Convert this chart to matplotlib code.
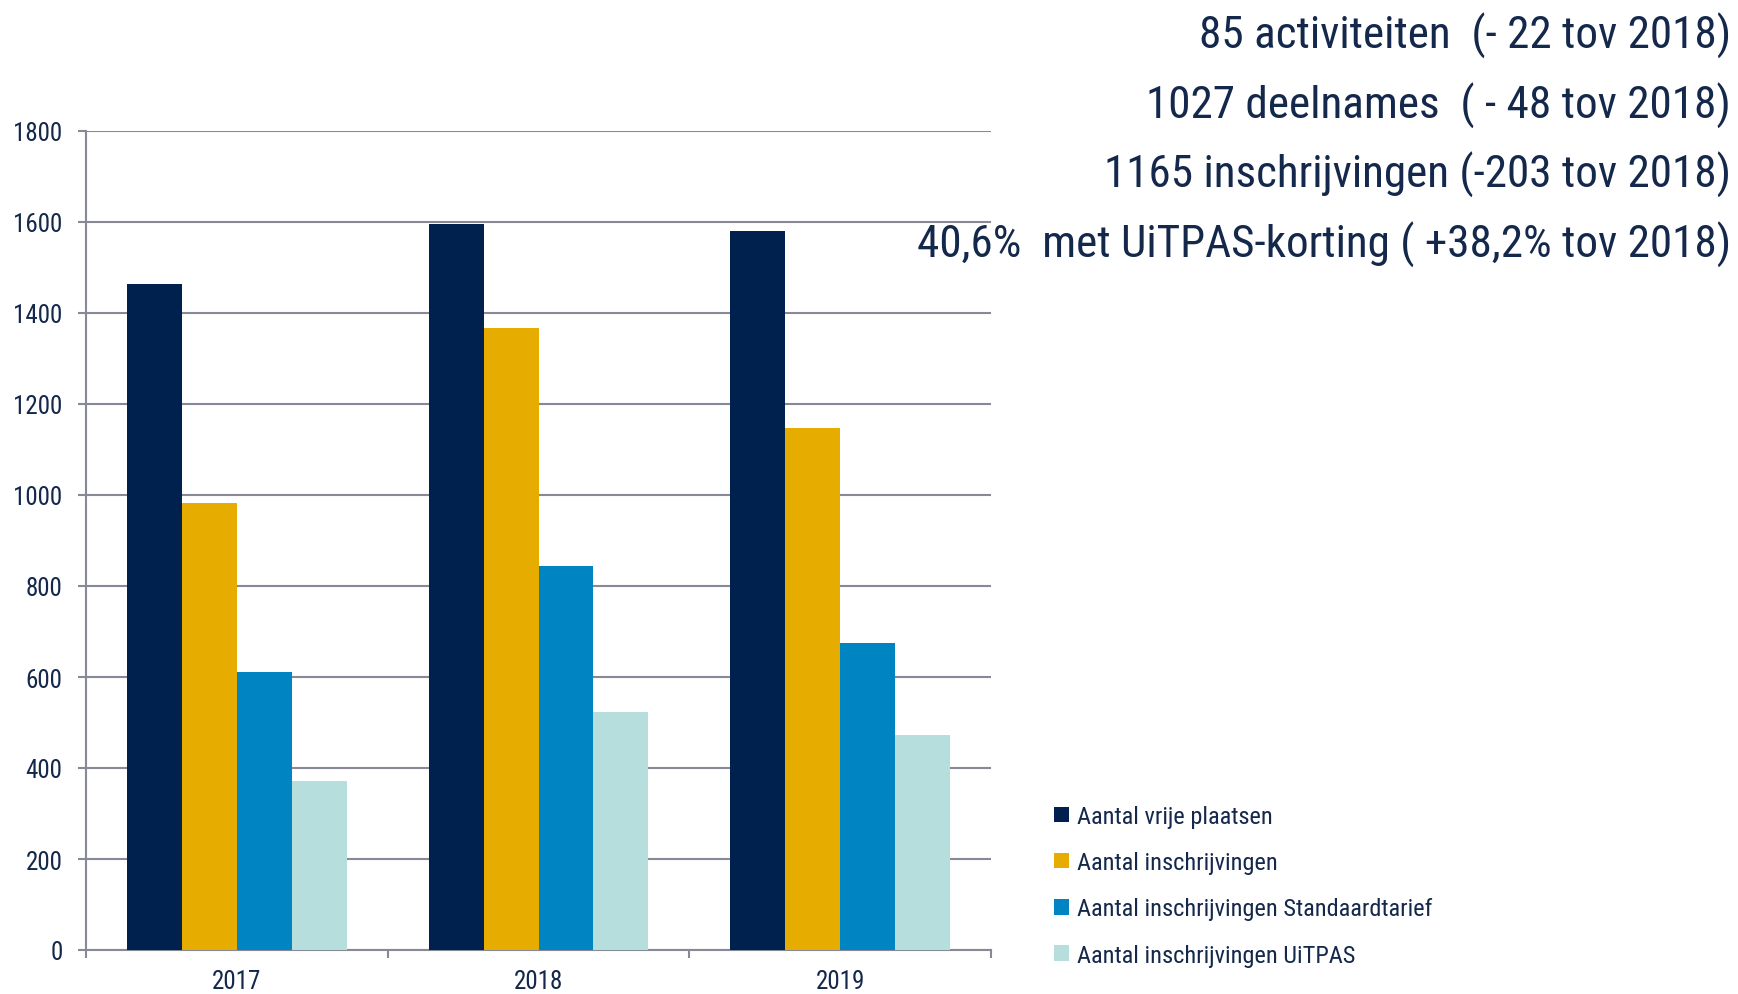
import numpy as np
import matplotlib.pyplot as plt
import matplotlib.font_manager as fm
from matplotlib.patches import Patch

years = ["2017", "2018", "2019"]
series_names = [
    "Aantal vrije plaatsen",
    "Aantal inschrijvingen",
    "Aantal inschrijvingen Standaardtarief",
    "Aantal inschrijvingen UiTPAS",
]
vrije_plaatsen = [1464, 1596, 1581]
inschrijvingen = [982, 1368, 1148]
standaardtarief = [611, 845, 675]
uitpas = [372, 522, 473]

summary_lines = [
    "85 activiteiten  (- 22 tov 2018)",
    "1027 deelnames  ( - 48 tov 2018)",
    "1165 inschrijvingen (-203 tov 2018)",
    "40,6%  met UiTPAS-korting ( +38,2% tov 2018)",
]

colors = ["#00214D", "#E6AC00", "#0085C2", "#B5DEDD"]
text_color = "#14284B"
grid_color = "#878A96"


def pick_narrow_font():
    # the original uses an Arial Narrow look; take a condensed face if one exists
    wanted = ["LiberationSansNarrow-Regular", "ArialNarrow", "RobotoCondensed-Regular",
              "NotoSans-Condensed.", "NotoSans-SemiCondensed.", "OpenSans_Condensed-Regular",
              "OpenSansCondensed"]
    files = [f.fname for f in fm.fontManager.ttflist]
    for w in wanted:
        for fn in files:
            if w.lower() in fn.lower():
                return fm.FontProperties(fname=fn)
    return fm.FontProperties(family=["Liberation Sans", "DejaVu Sans"])


font = pick_narrow_font()

fig = plt.figure(figsize=(17.38, 9.95), dpi=100)
ax = fig.add_axes([86 / 1738, 1 - 951 / 995, (991 - 86) / 1738, (951 - 132) / 995])

values = [vrije_plaatsen, inschrijvingen, standaardtarief, uitpas]
x = np.arange(len(years))
width = 0.182
for i, (vals, c) in enumerate(zip(values, colors)):
    ax.bar(x + (i - 1.5) * width, vals, width, color=c, zorder=3)

ax.set_xlim(-0.5, 2.5)
ax.set_ylim(0, 1800)
ax.set_yticks(np.arange(0, 1801, 200))
ax.yaxis.grid(True, color=grid_color, linewidth=1.5, zorder=0)
ax.set_axisbelow(True)

# year labels in the middle, tick marks on the category borders
ax.set_xticks(x)
ax.set_xticklabels(years)
ax.tick_params(axis="x", which="major", length=0, pad=14, labelcolor=text_color)
ax.set_xticks([-0.5, 0.5, 1.5, 2.5], minor=True)
ax.tick_params(axis="x", which="minor", length=6, width=1.5, color=grid_color, direction="out")
ax.tick_params(axis="y", length=6, width=1.5, color=grid_color, pad=11, labelcolor=text_color)
for lab in ax.get_xticklabels() + ax.get_yticklabels():
    lab.set_fontproperties(font)
    lab.set_fontsize(18)

for side in ["top", "right"]:
    ax.spines[side].set_visible(False)
for side in ["left", "bottom"]:
    ax.spines[side].set_color(grid_color)
    ax.spines[side].set_linewidth(1.5)

legend_font = font.copy()
legend_font.set_size(17.6)
handles = [Patch(facecolor=c, label=n) for c, n in zip(colors, series_names)]
fig.legend(handles=handles, loc="upper left", bbox_to_anchor=(1054 / 1738, 1 - 806 / 995),
           frameon=False, prop=legend_font, handlelength=0.6, handleheight=0.6,
           handletextpad=0.35, labelspacing=0.95, borderpad=0, borderaxespad=0,
           labelcolor=text_color)

baselines = [49, 119, 188, 258]
for line, yb in zip(summary_lines, baselines):
    fig.text(1731 / 1738, 1 - yb / 995, line, ha="right", va="baseline",
             fontproperties=font, fontsize=32.5, color=text_color)

fig.savefig("out.png", dpi=100)
